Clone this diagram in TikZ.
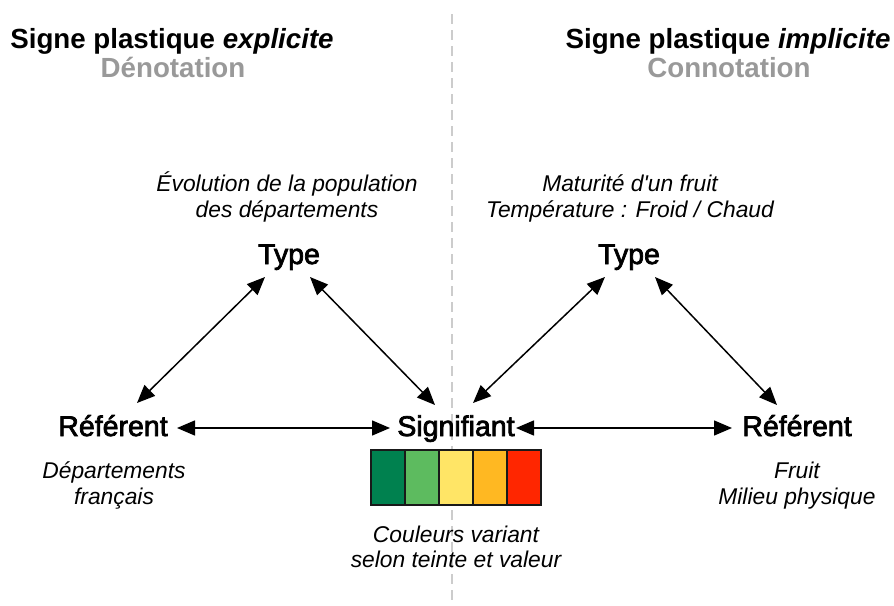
\documentclass[tikz,border=0pt]{standalone}
\usepackage{fontspec}
\setmainfont{Liberation Sans}[Ligatures=TeXOff]
\newfontfamily\medfont[FakeBold=2.6]{Liberation Sans}
\usetikzlibrary{arrows.meta}
\definecolor{cA}{HTML}{00814F}
\definecolor{cB}{HTML}{5DBB5F}
\definecolor{cC}{HTML}{FFE566}
\definecolor{cD}{HTML}{FFB822}
\definecolor{cE}{HTML}{FF2600}
\definecolor{subgray}{HTML}{999999}
\definecolor{dashgray}{HTML}{CCCCCC}
\tikzset{
  title/.style={font=\fontsize{27.7}{30}\selectfont\bfseries, anchor=base, inner sep=0pt},
  subtitle/.style={title, text=subgray},
  lab/.style={font=\medfont\fontsize{28.5}{30}\selectfont, anchor=base, inner sep=0pt},
  note/.style={font=\fontsize{22.8}{26}\selectfont\itshape, anchor=base, inner sep=0pt},
  link/.style={line width=1.5pt, {Triangle[length=18pt,width=15pt]}-{Triangle[length=18pt,width=15pt]}},
  cell/.style={draw=black!90, line width=1.8pt, minimum width=34pt, minimum height=55pt, inner sep=0pt, anchor=north west}
}
\begin{document}
\begin{tikzpicture}[x=1pt,y=-1pt]
\useasboundingbox (0,0) rectangle (894,605);
% separator
\coordinate (sepT) at (452,14);
\coordinate (sepB) at (452,605);
\draw[dashgray, line width=2pt, dash pattern=on 10pt off 6pt] (sepT) -- (sepB);

% titles
\node[title] (tL) at (172,48) {Signe plastique \textit{explicite}};
\node[subtitle] (sL) at (173,77) {Dénotation};
\node[title] (tR) at (728,48) {Signe plastique \textit{implicite}};
\node[subtitle] (sR) at (729,77) {Connotation};

% upper notes
\node[note] (nL1) at (287,191) {Évolution de la population};
\node[note] (nL2) at (287,217) {des départements};
\node[note] (nR1) at (630,191) {Maturité d'un fruit};
\node[note] (nR2) at (630,217) {Température : Froid / Chaud};

% labels
\node[lab] (typeL) at (289,264) {Type};
\node[lab] (typeR) at (629,264) {Type};
\node[lab] (refL) at (113,436) {Référent};
\node[lab] (sig) at (456,436) {Signifiant};
\node[lab] (refR) at (797,436) {Référent};

% lower notes
\node[note] (dL1) at (114,478) {Départements};
\node[note] (dL2) at (114,504) {français};
\node[note] (dR1) at (797,478) {Fruit};
\node[note] (dR2) at (797,504) {Milieu physique};
\node[note] (cN1) at (456,542) {Couleurs variant};
\node[note] (cN2) at (456,567) {selon teinte et valeur};

% colour bar
\node[cell, fill=cA] (c1) at (370,449) {};
\node[cell, fill=cB] (c2) at (404,449) {};
\node[cell, fill=cC] (c3) at (438,449) {};
\node[cell, fill=cD] (c4) at (472,449) {};
\node[cell, fill=cE] (c5) at (506,449) {};

% arrow ends
\coordinate (aL1) at (265,277);
\coordinate (aL2) at (137,403);
\coordinate (aL3) at (310,277);
\coordinate (aL4) at (435,405);
\coordinate (aL5) at (177,428);
\coordinate (aL6) at (390,428);
\coordinate (aR1) at (605,277);
\coordinate (aR2) at (473,403);
\coordinate (aR3) at (655,277);
\coordinate (aR4) at (777,405);
\coordinate (aR5) at (516,428);
\coordinate (aR6) at (732,428);

\draw[link] (aL1) -- (aL2);
\draw[link] (aL3) -- (aL4);
\draw[link] (aL5) -- (aL6);
\draw[link] (aR1) -- (aR2);
\draw[link] (aR3) -- (aR4);
\draw[link] (aR5) -- (aR6);
\end{tikzpicture}
\end{document}
